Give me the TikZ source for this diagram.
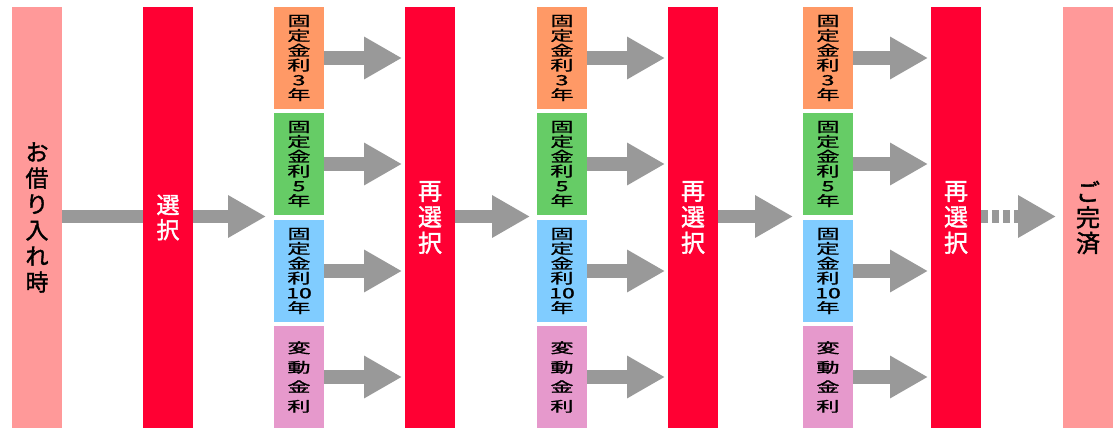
\documentclass[tikz,border=0pt]{standalone}
\usepackage{fontspec}
\setmainfont{Noto Sans CJK JP}
\newfontfamily\jpbold[FakeBold=1.6]{Noto Sans CJK JP}
\newfontfamily\jpmed[FakeBold=1.2]{Noto Sans CJK JP}
\usetikzlibrary{arrows.meta}
\definecolor{startpink}{HTML}{FF9999}
\definecolor{selred}{HTML}{FF0033}
\definecolor{cthree}{HTML}{FF9966}
\definecolor{cfive}{HTML}{66CC66}
\definecolor{cten}{HTML}{80CCFF}
\definecolor{cvar}{HTML}{E699CC}
\definecolor{arrgray}{HTML}{999999}
\newcommand\sqz[2]{\scalebox{1.65}[1]{\parbox{18pt}{\centering\jpmed\fontsize{14}{#1}\selectfont #2}}}
\newcommand\fixtxt[1]{\sqz{14.8}{固\\定\\金\\利\\#1\\年}}
\newcommand\vartxt{\sqz{19.5}{変\\動\\金\\利}}
\begin{document}
\begin{tikzpicture}[x=1pt,y=-1pt,
  bar/.style={minimum width=50pt, minimum height=421pt, inner sep=0pt, outer sep=0pt, anchor=north west, align=center},
  startbar/.style={bar, fill=startpink, font=\jpbold\fontsize{23}{26}\selectfont},
  selbar/.style={bar, fill=selred, text=white, font=\jpbold\fontsize{24}{26}\selectfont},
  ratebox/.style={minimum width=50pt, minimum height=102pt, inner sep=0pt, outer sep=0pt, anchor=north west},
  flow/.style={draw=arrgray, line width=13.5pt, -{Triangle[length=38pt,width=40pt]}, shorten >=3pt},
  flowline/.style={draw=arrgray, line width=13.5pt}
]
\useasboundingbox[fill=white] (0,0) rectangle (1115,428);

% bars
\node[startbar] (start) at (12,7) {\raisebox{8pt}{\parbox{30pt}{\centering お\\借\\り\\入\\れ\\時}}};
\node[selbar, font=\jpbold\fontsize{23}{25}\selectfont] (s1) at (143,7) {選\\択};
\node[selbar] (s2) at (405,7) {再\\選\\択};
\node[selbar] (s3) at (668,7) {再\\選\\択};
\node[selbar] (s4) at (931,7) {再\\選\\択};
\node[startbar, font=\jpbold\fontsize{24}{25.5}\selectfont] (fin) at (1063,7) {ご\\完\\済};

% rate boxes
\foreach \c/\x in {1/274, 2/537, 3/803}{
  \node[ratebox, fill=cthree] (c\c a) at (\x,7) {\fixtxt{3}};
  \node[ratebox, fill=cfive] (c\c b) at (\x,113) {\fixtxt{5}};
  \node[ratebox, fill=cten] (c\c c) at (\x,220) {\fixtxt{10}};
  \node[ratebox, fill=cvar] (c\c d) at (\x,326) {\vartxt};
}

% gap coordinates in front of each column
\coordinate (g1) at (274,216.5);
\coordinate (g2) at (537,216.5);
\coordinate (g3) at (803,216.5);

% connectors
\draw[flowline] (start.east |- g1) -- (s1.west |- g1);
\draw[flow, shorten >=8pt] (s1.east |- g1) -- (g1);
\draw[flow, shorten >=7pt] (s2.east |- g2) -- (g2);
\draw[flow, shorten >=10pt] (s3.east |- g3) -- (g3);
\draw[flow, shorten >=7pt, dash pattern=on 7pt off 4pt] (s4.east |- g3) -- (fin.west |- g3);

\foreach \c/\n in {1/2, 2/3, 3/4}{
  \foreach \r in {a,b,c,d}{
    \draw[flow] (c\c\r.east) -- (c\c\r.east -| s\n.west);
  }
}
\end{tikzpicture}
\end{document}
